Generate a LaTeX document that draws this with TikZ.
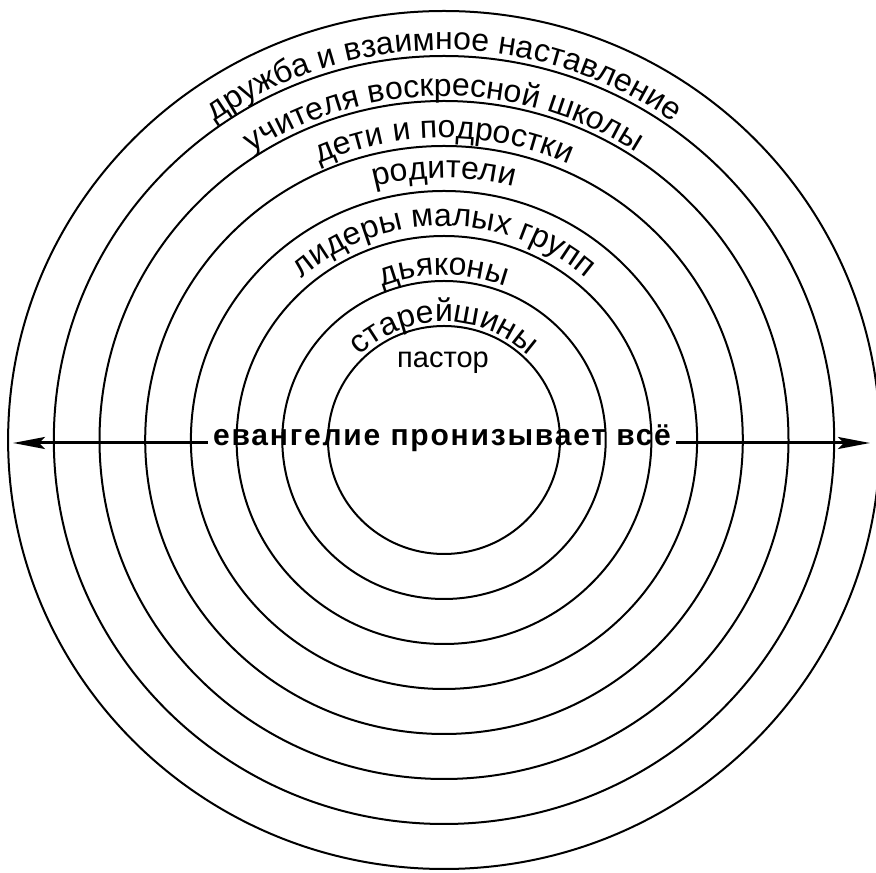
\documentclass[tikz,border=0pt]{standalone}
\usepackage{fontspec}
\setmainfont{Liberation Sans}
\newfontfamily\gospelfont[LetterSpace=6]{Liberation Sans}
\usetikzlibrary{arrows.meta, decorations.text, calc}

\begin{document}
\begin{tikzpicture}[
  x=1pt, y=1pt,
  ring/.style={draw, line width=2pt},
  ringlabel/.style={decorate, decoration={text along path, text align=center,
                    text={|\fontsize{32}{32}\selectfont|#1}}},
  centre/.style={font=\fontsize{29}{29}\selectfont, anchor=base},
  gospel/.style={font=\gospelfont\bfseries\fontsize{30}{30}\selectfont,
                 anchor=mid, inner sep=5pt},
  axis/.style={line width=3pt, -{Stealth[length=32pt, width=12pt, inset=6pt]}}
]
\useasboundingbox (0,0) rectangle (876,873);

%% Centre of the rings
\coordinate (c) at (444,433);

%% Rings
\foreach \i in {0,...,7}
  \draw[ring] (c) ellipse [x radius={116+45.7*\i}, y radius={114+45*\i}];

%% Labels, innermost first
\node[centre] (pastor) at (443,505) {пастор};
\path[ringlabel={старейшины}] (c) ++(-120,0)
  arc[start angle=180, end angle=0, x radius=120, y radius=118];
\path[ringlabel={дьяконы}] (c) ++(-168,0)
  arc[start angle=180, end angle=0, x radius=168, y radius=165];
\path[ringlabel={лидеры малых групп}] (c) ++(-217,0)
  arc[start angle=180, end angle=0, x radius=217, y radius=214];
\path[ringlabel={родители}] (c) ++(-266,0)
  arc[start angle=180, end angle=0, x radius=266, y radius=262];
\path[ringlabel={дети и подростки}] (c) ++(-307,0)
  arc[start angle=180, end angle=0, x radius=307, y radius=302];
\path[ringlabel={учителя воскресной школы}] (c) ++(-350,0)
  arc[start angle=180, end angle=0, x radius=350, y radius=344];
\path[ringlabel={дружба и взаимное наставление}] (c) ++(-396,0)
  arc[start angle=180, end angle=0, x radius=396, y radius=390];

%% Horizontal axis through the middle
\coordinate (lefttip)  at (13,430);
\coordinate (righttip) at (870,430);
\node[gospel] (gospel) at (442,430) {евангелие пронизывает всё};
\draw[axis] (gospel.mid west) -- (lefttip);
\draw[axis] (gospel.mid east) -- (righttip);

\end{tikzpicture}
\end{document}
